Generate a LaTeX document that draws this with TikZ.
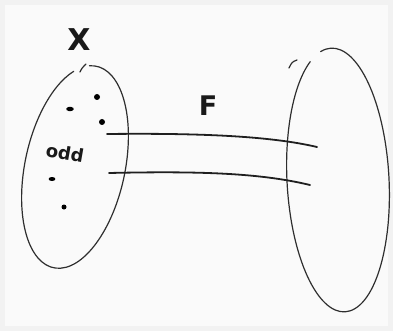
\documentclass[tikz,border=0pt]{standalone}
\usepackage{fontspec}
\setmainfont{DejaVu Sans}
\begin{document}
\begin{tikzpicture}[x=1pt,y=-1pt,
  pen/.style={line width=1.8pt,line cap=round,black!88},
  thinpen/.style={line width=1.2pt,line cap=round,black!82},
  dot/.style={circle,fill=black,inner sep=0pt,minimum size=5pt},
  lbl/.style={inner sep=0pt,text=black!90}]
\fill[gray!10] (0,0) rectangle (393,331);
\fill[white!96!gray] (5,5) rectangle (388,326);
\useasboundingbox (0,0) rectangle (393,331);
% left set (tilted loop with a gap at the top)
\coordinate (lc) at (75,167);
\draw[thinpen,rotate around={-12:(lc)}] (lc) ++(262:50 and 103) arc[start angle=262,end angle=605,x radius=50,y radius=103];
\draw[thinpen] (80,72) .. controls (82,68) .. (86,64);
% right set
\coordinate (rc) at (338,180);
\draw[thinpen,rotate around={3:(rc)}] (rc) ++(258:51 and 132) arc[start angle=258,end angle=605,x radius=51,y radius=132];
\draw[thinpen] (289,68) .. controls (292,62) .. (297,60);
% labels
\node[lbl,font=\fontsize{30}{30}\selectfont\bfseries] (X) at (79,40) {X};
\node[lbl,font=\fontsize{27}{27}\selectfont\bfseries] (F) at (208,106) {F};
\node[lbl,font=\fontsize{18}{18}\selectfont\bfseries,rotate=-10] (odd) at (65,153) {odd};
% elements
\node[dot,minimum size=6pt] (d1) at (97,97) {};
\node[dot,minimum size=4.5pt,xscale=1.7,rotate=30] (d2) at (70,109) {};
\node[dot,minimum size=6pt] (d3) at (102,122) {};
\node[dot,minimum size=4pt,xscale=1.7] (d4) at (52,179) {};
\node[dot,minimum size=5pt] (d5) at (64,207) {};
% connectors
\coordinate (a1) at (107,134);
\coordinate (b1) at (317,147);
\coordinate (a2) at (109,173);
\coordinate (b2) at (310,185);
\draw[pen] (a1) .. controls (200,133) and (270,136) .. (b1);
\draw[pen] (a2) .. controls (200,171) and (260,173) .. (b2);
\end{tikzpicture}
\end{document}
